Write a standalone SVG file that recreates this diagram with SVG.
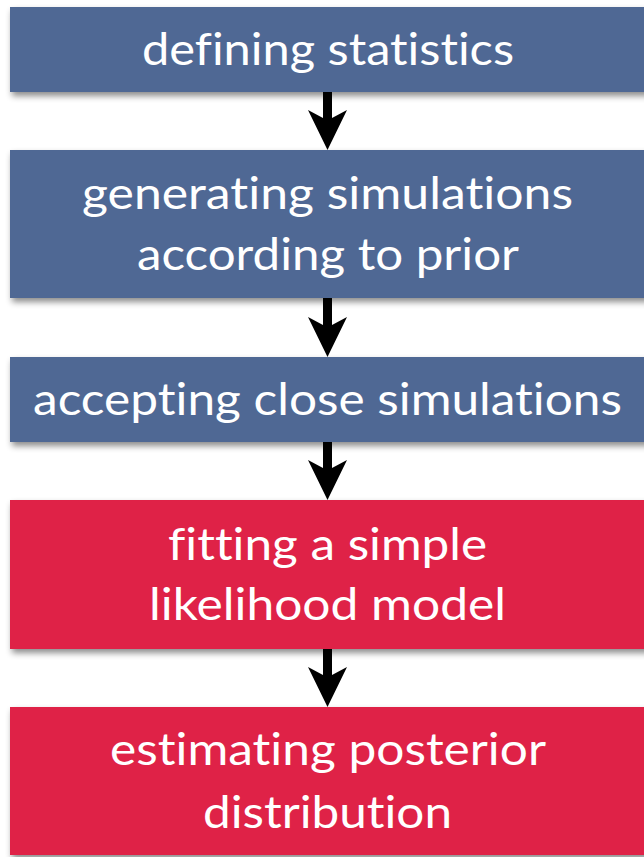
<svg xmlns="http://www.w3.org/2000/svg" width="644" height="857" viewBox="0 0 644 857">
<defs>
<filter id="sh" x="-10%" y="-20%" width="120%" height="150%">
<feDropShadow dx="2" dy="4" stdDeviation="3" flood-color="#000" flood-opacity="0.45"/>
</filter>
</defs>
<style>
.blue{fill:#506894;filter:url(#sh)}
.red{fill:#DF2047;filter:url(#sh)}
.t{font-family:Lato,"Open Sans",sans-serif;font-size:45px;fill:#fff;text-anchor:middle;font-variant-ligatures:none;font-feature-settings:"liga" 0,"clig" 0,"dlig" 0}
.arr{fill:#000}
</style>
<rect width="644" height="857" fill="#fff"/>
<g id="n1">
<rect class="blue" x="10" y="7" width="640" height="85"/>
<text class="t" x="328" y="65" textLength="372" lengthAdjust="spacingAndGlyphs">defining statistics</text>
</g>
<g id="n2">
<rect class="blue" x="10" y="150" width="640" height="148"/>
<text class="t" x="327.5" y="209" textLength="491" lengthAdjust="spacingAndGlyphs">generating simulations</text>
<text class="t" x="328" y="270" textLength="382" lengthAdjust="spacingAndGlyphs">according to prior</text>
</g>
<g id="n3">
<rect class="blue" x="10" y="357" width="640" height="85"/>
<text class="t" x="327.5" y="415" textLength="589" lengthAdjust="spacingAndGlyphs">accepting close simulations</text>
</g>
<g id="n4">
<rect class="red" x="10" y="500" width="640" height="149"/>
<text class="t" x="327.5" y="560" textLength="319" lengthAdjust="spacingAndGlyphs">fitting a simple</text>
<text class="t" x="327.5" y="620" textLength="357" lengthAdjust="spacingAndGlyphs">likelihood model</text>
</g>
<g id="n5">
<rect class="red" x="10" y="707" width="640" height="148"/>
<text class="t" x="328" y="765" textLength="436" lengthAdjust="spacingAndGlyphs">estimating posterior</text>
<text class="t" x="327.5" y="828" textLength="249" lengthAdjust="spacingAndGlyphs">distribution</text>
</g>
<g id="connectors">
<path class="arr" d="M323,92 L332,92 L332,118 L347,110 L327.5,150 L308,110 L323,118 Z"/>
<path class="arr" d="M323,298 L332,298 L332,325 L347,317 L327.5,357 L308,317 L323,325 Z"/>
<path class="arr" d="M323,442 L332,442 L332,468 L347,460 L327.5,500 L308,460 L323,468 Z"/>
<path class="arr" d="M323,649 L332,649 L332,675 L347,667 L327.5,707 L308,667 L323,675 Z"/>
</g>
</svg>
